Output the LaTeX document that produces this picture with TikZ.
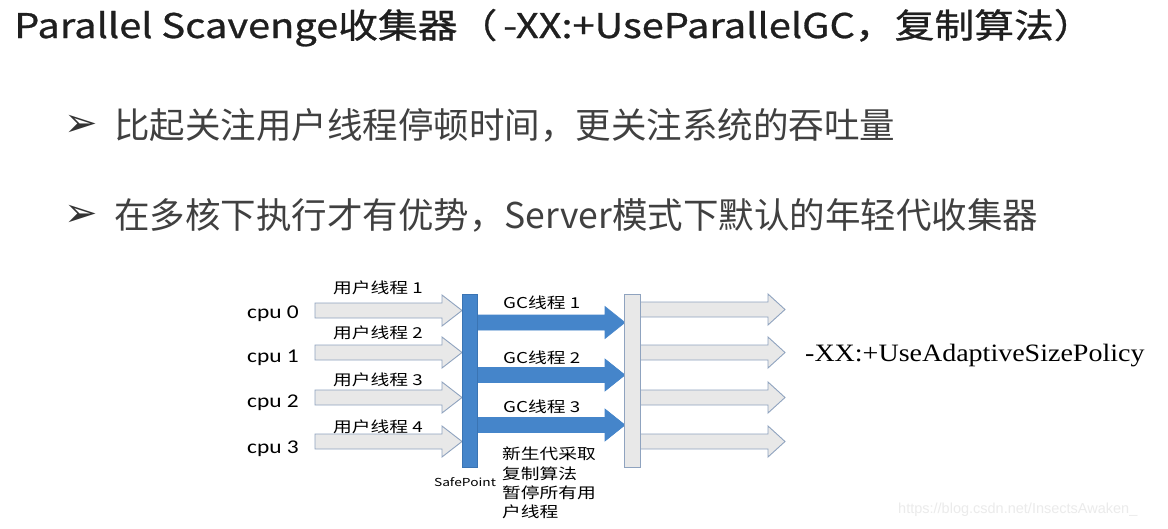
\documentclass[tikz,border=0pt]{standalone}
\usepackage{fontspec}
\newfontfamily\cjk{Noto Sans CJK SC}
\newfontfamily\tfont[FakeStretch=1.17,FakeBold=0.8]{Noto Sans CJK SC}
\newfontfamily\cjkw[FakeStretch=1.25]{Noto Sans CJK SC}
\newfontfamily\cpuf[FakeStretch=1.2]{Carlito}
\newfontfamily\polf[FakeStretch=1.12]{Liberation Serif}
\newfontfamily\symf{DejaVu Sans}
\newfontfamily\wmf{Liberation Sans}
\definecolor{titlec}{HTML}{1F1F1F}
\definecolor{bodyc}{HTML}{404040}
\definecolor{bulc}{HTML}{333333}
\definecolor{gfill}{HTML}{E8E8E8}
\definecolor{gline}{HTML}{8FA3BF}
\definecolor{bfill}{HTML}{4585CA}
\definecolor{bline}{HTML}{3A74B3}
\newcommand\blockarrow[7]{\draw[#1] (#2,#4-#6) -- (#3-#5,#4-#6) -- (#3-#5,#4-#7) -- (#3,#4) -- (#3-#5,#4+#7) -- (#3-#5,#4+#6) -- (#2,#4+#6) -- cycle;}
\tikzset{
  grayarrow/.style={fill=gfill,draw=gline,line width=0.9pt,line join=miter},
  bluearrow/.style={fill=bfill,draw=bfill,line width=0.6pt},
  bluebar/.style={rectangle,fill=bfill,draw=bline,line width=0.6pt,inner sep=0,minimum width=15,minimum height=173},
  graybar/.style={rectangle,fill=gfill,draw=gline,line width=0.9pt,inner sep=0,minimum width=16,minimum height=173},
  thlabel/.style={anchor=west,inner sep=0,font=\cjkw\fontsize{15}{18}\selectfont,text=black},
  cpulabel/.style={anchor=base west,inner sep=0,font=\cpuf\fontsize{19.5}{22}\selectfont,text=black},
  bullet/.style={anchor=base west,inner sep=0,font=\symf\fontsize{40}{40}\selectfont,text=bulc},
  bodytext/.style={anchor=base west,inner sep=0,font=\cjk\fontsize{35.5}{40}\selectfont,text=bodyc}
}
\begin{document}
\begin{tikzpicture}[x=1pt,y=-1pt]
\useasboundingbox (0,0) rectangle (1168,528);
\fill[white] (0,0) rectangle (1168,528);
% title
\node[anchor=base west,inner sep=0,font=\tfont\fontsize{34}{40}\selectfont,text=titlec] (title) at (14,38) {Parallel Scavenge收集器（\hspace{6pt}-XX:+UseParallelGC，复制算法）};
% bullets
\node[bullet] (m1) at (64,136) {➢};
\node[bodytext] (b1) at (114,138) {比起关注用户线程停顿时间，更关注系统的吞吐量};
\node[bullet] (m2) at (64,226) {➢};
\node[bodytext] (b2) at (114,228) {在多核下执行才有优势，Server模式下默认的年轻代收集器};
% left gray arrows
\blockarrow{grayarrow}{315}{462}{310.5}{20}{7.5}{15.5}
\blockarrow{grayarrow}{315}{462}{352.5}{20}{7.5}{15.5}
\blockarrow{grayarrow}{315}{462}{397.5}{20}{7.5}{15.5}
\blockarrow{grayarrow}{315}{462}{441.5}{20}{7.5}{15.5}
% blue GC arrows
\blockarrow{bluearrow}{477}{625}{322.5}{20}{7.5}{16}
\blockarrow{bluearrow}{477}{625}{375}{20}{7.5}{16}
\blockarrow{bluearrow}{477}{625}{425}{20}{7.5}{16}
% right gray arrows
\blockarrow{grayarrow}{640}{785}{309.5}{17}{7.5}{15.5}
\blockarrow{grayarrow}{640}{785}{352.5}{17}{7.5}{15.5}
\blockarrow{grayarrow}{640}{785}{397.5}{17}{7.5}{15.5}
\blockarrow{grayarrow}{640}{785}{441.5}{17}{7.5}{15.5}
% bars
\node[bluebar] (sp) at (469.5,380.5) {};
\node[graybar] (bar2) at (632,380.5) {};
% cpu labels
\node[cpulabel] (cpu0) at (247,318) {cpu 0};
\node[cpulabel] (cpu1) at (247,362) {cpu 1};
\node[cpulabel] (cpu2) at (247,407) {cpu 2};
\node[cpulabel] (cpu3) at (247,453) {cpu 3};
% user thread labels
\node[thlabel] (u1) at (333,288) {用户线程 1};
\node[thlabel] (u2) at (333,333) {用户线程 2};
\node[thlabel] (u3) at (333,380) {用户线程 3};
\node[thlabel] (u4) at (333,427) {用户线程 4};
% GC thread labels
\node[thlabel] (g1) at (503,303) {GC线程 1};
\node[thlabel] (g2) at (503,358) {GC线程 2};
\node[thlabel] (g3) at (503,407) {GC线程 3};
% safepoint
\node[inner sep=0,font=\cjkw\fontsize{11}{12}\selectfont,text=black] (spl) at (465,482) {SafePoint};
% note
\node[anchor=north west,inner sep=0,align=left,font=\cjkw\fontsize{15}{19.3}\selectfont,text=black] (note) at (502,447) {新生代采取\\复制算法\\暂停所有用\\户线程};
% option
\node[anchor=base west,inner sep=0,font=\polf\fontsize{25}{28}\selectfont,text=black] (opt) at (805,361.5) {-XX:+UseAdaptiveSizePolicy};
% watermark
\node[anchor=west,inner sep=0,font=\wmf\fontsize{14.5}{16}\selectfont,text=black!8] (wm) at (898,510) {https://blog.csdn.net/InsectsAwaken\_};
\end{tikzpicture}
\end{document}
